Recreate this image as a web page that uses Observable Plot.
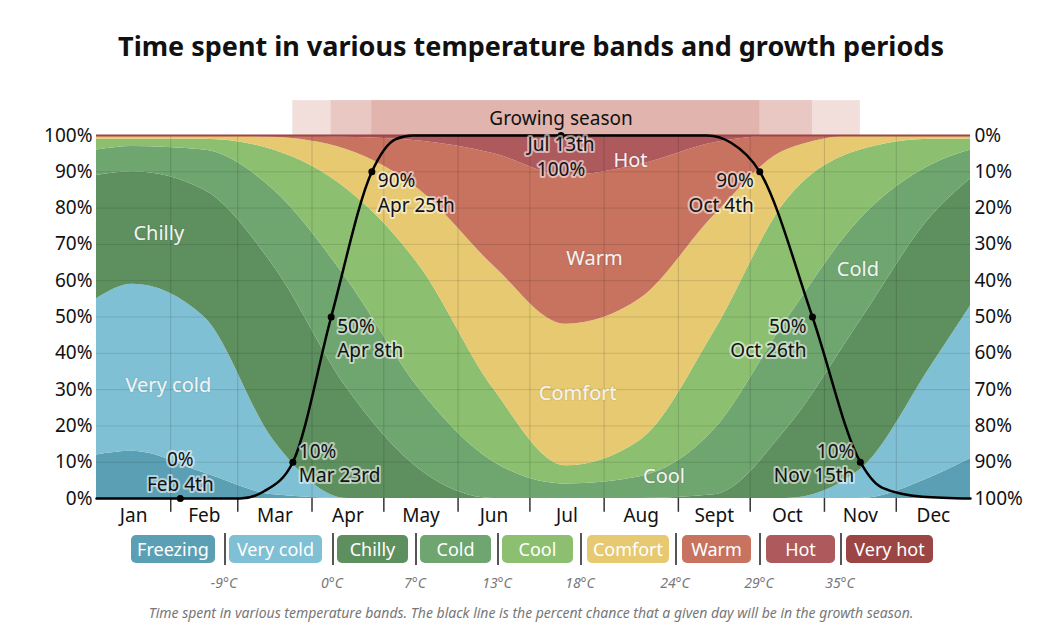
<!DOCTYPE html>
<html><head><meta charset="utf-8">
<script src="https://cdn.jsdelivr.net/npm/d3@7"></script>
<script src="https://cdn.jsdelivr.net/npm/@observablehq/plot@0.6"></script>
<style>
body{margin:0;background:#fff;font-family:"Noto Sans",sans-serif;}
#title{height:80px;text-align:center;font-size:27px;font-weight:bold;line-height:92px;color:#111;}
#legend{position:relative;height:100px;}
.chip{position:absolute;top:2px;height:28px;border-radius:5px;color:#fff;font-size:18px;line-height:28px;text-align:center;}
.sep{position:absolute;top:0;width:2px;height:32px;background:#555;}
.temp{position:absolute;top:40px;font-size:14px;font-style:italic;color:#777;transform:translateX(-50%);}
#caption{position:absolute;top:70px;left:0;width:1062px;text-align:center;font-size:14px;font-style:italic;color:#777;}
</style></head>
<body>
<div id="title">Time spent in various temperature bands and growth periods</div>
<div id="chart"></div>
<div id="legend"></div>
<script>
// sample days: Jan 1, mid-months, Dec 31
const days = [0, 15, 45, 74, 105, 135, 166, 196, 227, 258, 288, 319, 349, 365];
// cumulative top (%) of each band
const bandNames = ["Freezing","Very cold","Chilly","Cold","Cool","Comfort","Warm","Hot","Very hot"];
const bandColors = ["#5b9fb4","#80c0d4","#5e8f5f","#6fa56f","#8cc070","#e6c971","#c8735f","#ae595c","#9c4545"];
const freezingTop = [12, 13, 7, 1, 0, 0, 0, 0, 0, 0, 0, 0, 6, 11];
const veryColdTop = [55, 59, 50, 16, 0, 0, 0, 0, 0, 0, 0, 8, 37, 53];
const chillyTop = [89, 90, 85, 64, 30, 8, 0, 0, 0, 1, 19, 49, 78, 88];
const coldTop = [96, 97, 96, 85, 60, 30, 10, 4, 6, 19, 49, 77, 92, 96];
const coolTop = [99, 99, 99, 96, 85, 64, 30, 9, 16, 46, 82, 96, 99, 99];
const comfortTop = [100, 100, 100, 99.5, 96, 85, 64, 48, 55, 78, 96, 100, 100, 100];
const warmTop = [100, 100, 100, 100, 99.5, 98.5, 95, 89, 92, 98, 100, 100, 100, 100];
const hotTop = [100, 100, 100, 100, 100, 100, 99.8, 99.6, 99.8, 100, 100, 100, 100, 100];
const veryHotTop = days.map(() => 100);
const tops = [freezingTop, veryColdTop, chillyTop, coldTop, coolTop, comfortTop, warmTop, hotTop, veryHotTop];

// growth season chance
const growthDays = [0, 35, 60, 70, 82, 98, 115, 125, 132, 194, 255, 265, 277, 299, 319, 328, 345, 365];
const growthPct = [0, 0, 0, 2, 10, 50, 90, 99, 100, 100, 100, 98, 90, 50, 10, 3, 0.5, 0];
const keyDays = [35, 82, 98, 115, 194, 277, 299, 319];
const keyPct = [0, 10, 50, 90, 100, 90, 50, 10];
const keyText = ["0%\nFeb 4th","10%\nMar 23rd","50%\nApr 8th","90%\nApr 25th","Jul 13th\n100%","90%\nOct 4th","50%\nOct 26th","10%\nNov 15th"];
const keyAnchor = ["middle","start","start","start","middle","end","end","end"];
const keyDx = [0, 6, 6, 6, 0, -6, -6, -6];
const keyDy = [-28, 0, 20, 20, 20, 20, 20, 0];

const monthStarts = [0, 31, 59, 90, 120, 151, 181, 212, 243, 273, 304, 334, 365];
const monthNames = ["Jan","Feb","Mar","Apr","May","Jun","Jul","Aug","Sept","Oct","Nov","Dec"];

// growing-season bar spans (10%, 50%, 90%)
const seasonFrom = [82, 98, 115];
const seasonTo = [319, 299, 277];
const seasonColor = ["#f2dfdc","#e9c7c2","#e1b5ae"];

const bandLabels = [
  {x: 30, y: 31, t: "Very cold"}, {x: 26, y: 73, t: "Chilly"},
  {x: 318, y: 63, t: "Cold"}, {x: 237, y: 6, t: "Cool"},
  {x: 201, y: 29, t: "Comfort"}, {x: 208, y: 66, t: "Warm"}, {x: 223, y: 93, t: "Hot"}
];

const rows = [];
tops.forEach((top, b) => days.forEach((d, i) => rows.push({band: b, day: d, y1: b ? tops[b-1][i] : 0, y2: top[i]})));
const growth = growthDays.map((d, i) => ({day: d, p: growthPct[i]}));
const keys = keyDays.map((d, i) => ({day: d, p: keyPct[i], t: keyText[i], a: keyAnchor[i], dx: keyDx[i], dy: keyDy[i]}));
const mids = monthNames.map((m, i) => (monthStarts[i] + monthStarts[i+1]) / 2);

const chart = Plot.plot({
  width: 1062, height: 453,
  marginLeft: 96, marginRight: 92, marginTop: 55, marginBottom: 35,
  style: {fontFamily: "Noto Sans", fontSize: "19px", color: "#111"},
  x: {type: "linear", domain: [0, 365]},
  y: {type: "linear", domain: [0, 100]},
  marks: [
    Plot.rect(seasonFrom.map((f, i) => ({f, t: seasonTo[i], c: seasonColor[i]})), {x1: "f", x2: "t", y1: () => 100, y2: () => 109.6, fill: "c"}),
    Plot.text(["Growing season"], {x: () => 194, y: () => 104.6, text: d => d, fontSize: 19, fill: "#111"}),
    ...tops.map((_, b) => Plot.areaY(rows.filter(r => r.band === b), {x: "day", y1: "y1", y2: "y2", fill: bandColors[b], curve: "monotone-x"})),
    Plot.ruleY(d3.range(10, 100, 10), {stroke: "#000", strokeOpacity: 0.12}),
    Plot.ruleX(monthStarts.slice(1, -1), {y1: () => 0, y2: () => 100, stroke: "#000", strokeOpacity: 0.15}),
    Plot.ruleX(monthStarts.slice(1, -1), {y1: () => 0, y2: () => -3.8, stroke: "#333", strokeWidth: 1.5}),
    Plot.ruleY([100], {stroke: "#9c4545", strokeWidth: 2}),
    Plot.text(bandLabels, {x: "x", y: "y", text: "t", fill: "#f3f3f3", fontSize: 20, stroke: "#000", strokeOpacity: 0.05, strokeWidth: 3}),
    Plot.line(growth, {x: "day", y: "p", stroke: "#000", strokeWidth: 2.5, curve: "monotone-x"}),
    Plot.dot(keys, {x: "day", y: "p", r: 3.5, fill: "#000"}),
    ...keys.map(k => Plot.text([k], {x: "day", y: "p", text: "t", textAnchor: k.a, dx: k.dx, dy: k.dy, lineHeight: 1.3, fontSize: 19, fill: "#111", stroke: "#fff", strokeOpacity: 0.55, strokeWidth: 4})),
    Plot.axisY({anchor: "left", ticks: d3.range(0, 101, 10), tickFormat: d => d + "%", tickSize: 0, tickPadding: 4, fontSize: 19}),
    Plot.axisY({anchor: "right", ticks: d3.range(0, 101, 10), tickFormat: d => (100 - d) + "%", tickSize: 0, tickPadding: 4, fontSize: 19}),
    Plot.axisX({ticks: mids, tickFormat: (d, i) => monthNames[i], tickSize: 0, tickPadding: 10, fontSize: 19})
  ]
});
document.getElementById("chart").append(chart);

// legend
const chipX = [131, 229, 337, 420, 502, 587, 682, 766, 846];
const chipW = [84, 93, 71, 71, 71, 82, 69, 69, 87];
const sepX = [224, 332, 415, 497, 580, 675, 759, 840];
const temps = ["-9°C","0°C","7°C","13°C","18°C","24°C","29°C","35°C"];
const leg = d3.select("#legend");
bandNames.forEach((n, i) => leg.append("div").attr("class", "chip").style("left", chipX[i] + "px").style("width", chipW[i] + "px").style("background", bandColors[i]).text(n));
sepX.forEach((x, i) => {
  leg.append("div").attr("class", "sep").style("left", x + "px");
  leg.append("div").attr("class", "temp").style("left", x + "px").text(temps[i]);
});
leg.append("div").attr("id", "caption").text("Time spent in various temperature bands. The black line is the percent chance that a given day will be in the growth season.");
</script>
</body></html>
